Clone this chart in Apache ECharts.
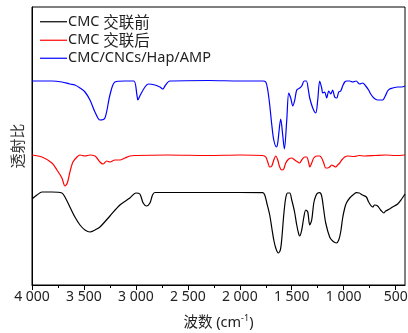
<!DOCTYPE html>
<html>
<head>
<meta charset="utf-8">
<script src="https://cdn.jsdelivr.net/npm/echarts@6/dist/echarts.min.js"></script>
<style>html,body{margin:0;padding:0;background:#fff;}#c{width:408px;height:333px;}</style>
</head>
<body>
<div id="c"></div>
<script>
// Series names
var seriesNames = ['CMC 交联前', 'CMC 交联后', 'CMC/CNCs/Hap/AMP'];

// Black: CMC before crosslinking (wavenumber cm-1, relative transmittance)
var blackWn = [4000,3952,3904,3808,3712,3683,3635,3587,3538,3490,3442,3394,3346,3250,3154,3058,3000,2962,2930,2897,2865,2840,2817,2400,2000,1779,1760,1740,1712,1692,1673,1654,1630,1610,1597,1577,1558,1539,1519,1500,1481,1471,1452,1433,1423,1404,1385,1365,1346,1327,1308,1288,1269,1250,1231,1212,1192,1173,1135,1106,1070,1048,1029,1010,990,974,942,900,878,850,820,782,760,721,702,673,645,615,596,558,529,481,442,410];
var blackT  = [86,90,93,93,92,88,78,68,60,55,53,55,58,69,80,87,92,91,82,79,82,90,92.5,92.5,92.5,92.3,90,82,70,57,45,37,32,35,45,70,87,92,92,85,77,72,60,51,49,55,67,75,73,60,65,82,89,92,92.3,89,75,62,48,44,42,45,53,67,77,82,87,91,92.3,92,90,88,83,78,80,79,75,72,74,76,78,81,86,91];

// Red: CMC after crosslinking
var redWn = [4000,3904,3808,3760,3712,3683,3660,3635,3606,3567,3538,3490,3442,3394,3375,3346,3317,3280,3250,3202,3154,3106,3058,3010,2700,2300,2000,1779,1750,1731,1712,1692,1673,1654,1635,1616,1597,1577,1558,1529,1500,1471,1442,1423,1404,1375,1356,1336,1327,1308,1288,1260,1231,1212,1192,1173,1154,1135,1115,1096,1077,1058,1038,1019,990,960,900,850,800,700,600,500,410];
var redT  = [130,128,122,115,107,99,102,113,123,128,130,129,130,129,127,123,121,124,123,125,125,127,129,129.5,130,129.5,130,129.5,128,123,118,119,125,129,125,118,115,116,122,126,127,125,123,122,125,128,128,122,118,122,127,129,129,127,122,117,117,118,120,119,118,120,122,125,128,129,128.5,129.5,129,129.5,130,129.5,130];

// Blue: CMC/CNCs/Hap/AMP
var blueWn = [4000,3808,3712,3635,3587,3538,3490,3442,3394,3346,3298,3250,3202,3106,3020,2990,2981,2962,2913,2880,2817,2769,2740,2721,2673,2300,2000,1779,1750,1731,1712,1692,1673,1647,1635,1606,1587,1571,1548,1529,1510,1490,1471,1452,1423,1404,1380,1359,1340,1327,1298,1269,1250,1231,1212,1202,1183,1164,1144,1125,1106,1087,1067,1048,1029,1010,990,970,942,913,880,846,817,788,760,740,710,673,625,600,577,558,529,481,442,410];
var blueT  = [204,204,203,201,200,197,193,185,173,165,167,190,203,204,204,190,185,189,198,201,200,198,196,199,204,204.5,204,204,203,195,180,160,145,138,142,166,150,136,165,192,187,179,185,195,197,199,204,204,195,187,177,172,185,204,197,192,193,187,194,191,195,188,187,193,194,199,203,204,204,203,204,201,202,199,195,191,187,185,185,189,194,196,197,198,198,199];

// Axis tick values
var majorTicks = [500,1000,1500,2000,2500,3000,3500,4000];
var minorTicks = [750,1250,1750,2250,2750,3250,3750];

function pairs(wn, t) { return wn.map(function (w, i) { return [w, t[i]]; }); }

var FONT = "'Noto Sans', 'Noto Sans CJK SC', sans-serif";
var chart = echarts.init(document.getElementById('c'), null, {renderer: 'canvas'});
var colors = ['#000000', '#ff0000', '#0000ff'];
var lineIcon = 'path://M0,0H27V1.2H0Z';
var option = {
  animation: false,
  backgroundColor: '#ffffff',
  textStyle: {fontFamily: FONT},
  grid: {left: 32, right: 3, top: 7, bottom: 48, containLabel: false, outerBoundsMode: 'none',
    show: true, borderColor: '#000', borderWidth: 1, backgroundColor: 'transparent'},
  legend: {
    orient: 'vertical', left: 40, top: 14, padding: 0,
    itemWidth: 27, itemHeight: 14, itemGap: 3,
    textStyle: {fontFamily: FONT, fontSize: 14.5, lineHeight: 14, color: '#222', padding: [0, 0, 0, -4],
      rich: {zh: {fontFamily: "'Noto Sans CJK SC', sans-serif", fontSize: 15.5, lineHeight: 14, color: '#222'}}},
    formatter: function (n) {
      var i = n.indexOf(' ');
      return i > 0 ? n.slice(0, i) + ' {zh|' + n.slice(i + 1) + '}' : n;
    },
    data: seriesNames.map(function (n) { return {name: n, icon: lineIcon}; })
  },
  xAxis: [{
    type: 'value', inverse: true, min: 410, max: 4000,
    axisLine: {show: true, lineStyle: {color: '#000', width: 1}},
    axisTick: {show: true, inside: false, length: 5, lineStyle: {color: '#000'}, customValues: majorTicks},
    axisLabel: {show: true, customValues: majorTicks, margin: 5, fontSize: 14, color: '#222', fontFamily: FONT,
      formatter: function (v) { var s = String(v); return s.length > 3 ? s.slice(0, s.length - 3) + ' ' + s.slice(-3) : s; }},
    splitLine: {show: false},
    name: '波数 (cm{sup|-1})', nameLocation: 'middle', nameGap: 29,
    nameTextStyle: {fontSize: 14.5, color: '#222', fontFamily: FONT,
      rich: {sup: {fontSize: 9, color: '#222', fontFamily: FONT, verticalAlign: 'top', padding: [0, 0, 8, 0]}}}
  }, {
    type: 'value', inverse: true, min: 410, max: 4000, position: 'bottom', gridIndex: 0,
    axisLine: {show: false},
    axisTick: {show: true, length: 3, lineStyle: {color: '#000'}, customValues: minorTicks},
    axisLabel: {show: false},
    splitLine: {show: false}
  }],
  yAxis: {
    type: 'value', min: 0, max: 278,
    axisLine: {show: true, lineStyle: {color: '#000'}},
    axisTick: {show: false}, axisLabel: {show: false}, splitLine: {show: false},
    name: '透射比', nameLocation: 'middle', nameGap: 7, nameRotate: 90,
    nameTextStyle: {fontSize: 15, color: '#333', fontFamily: "'Noto Sans CJK SC', sans-serif"}
  },
  series: [
    {name: seriesNames[0], type: 'line', data: pairs(blackWn, blackT), showSymbol: false, symbol: 'none', smooth: 0.3, lineStyle: {color: colors[0], width: 1.2}, itemStyle: {color: colors[0]}},
    {name: seriesNames[1], type: 'line', data: pairs(redWn, redT), showSymbol: false, symbol: 'none', smooth: 0.3, lineStyle: {color: colors[1], width: 1.2}, itemStyle: {color: colors[1]}},
    {name: seriesNames[2], type: 'line', data: pairs(blueWn, blueT), showSymbol: false, symbol: 'none', smooth: 0.3, lineStyle: {color: colors[2], width: 1.2}, itemStyle: {color: colors[2]}}
  ]
};
chart.setOption(option);
</script>
</body>
</html>
